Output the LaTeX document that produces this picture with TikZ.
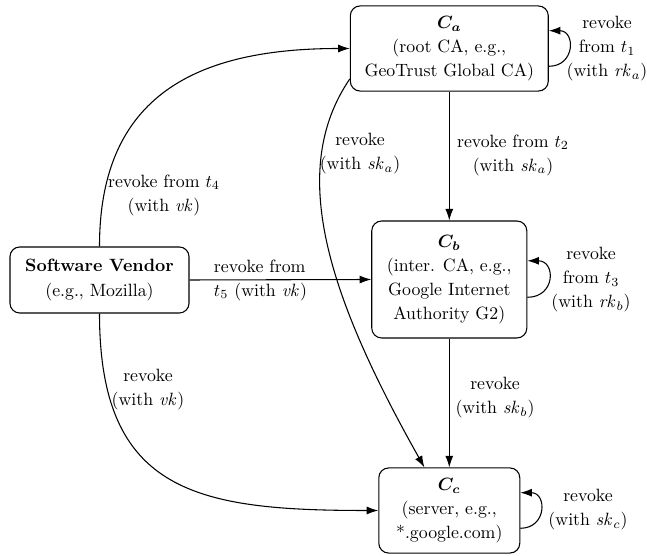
\documentclass[tikz,border=0pt]{standalone}
\usetikzlibrary{arrows.meta}
\begin{document}
\begin{tikzpicture}[x=0.5618pt,y=-0.5618pt,
  every node/.style={font=\fontsize{10}{13.5}\selectfont},
  box/.style={draw, semithick, rounded corners=5.5pt, align=center, inner sep=0pt},
  lbl/.style={align=center, inner sep=0pt},
  arr/.style={semithick, -{Latex[length=6.5pt,width=4.5pt]}}]
\useasboundingbox (0,0) rectangle (647,556);
\node[box, minimum width=111.2pt, minimum height=47.8pt] (Ca) at (449.3,48.5) {{\boldmath$C_a$}\\(root CA, e.g.,\\GeoTrust Global CA)};
\node[box, minimum width=87.1pt, minimum height=65.7pt] (Cb) at (449.3,279.5) {{\boldmath$C_b$}\\(inter. CA, e.g.,\\Google Internet\\Authority G2)};
\node[box, minimum width=79.2pt, minimum height=47.8pt] (Cc) at (449.3,510.5) {{\boldmath$C_c$}\\(server, e.g.,\\*.google.com)};
\node[box, minimum width=100.6pt, minimum height=37.1pt] (SV) at (99.5,280) {\textbf{Software Vendor}\\(e.g., Mozilla)};

\draw[arr] (SV.north) .. controls +(0,-152) and +(-152,0) .. (Ca.west);
\draw[arr] (SV.east) -- (Cb.west);
\draw[arr] (SV.south) .. controls +(0,180) and +(-180,0) .. (Cc.west);
\draw[arr] (Ca.south) -- (Cb.north);
\draw[arr] (Ca.197) .. controls +(-62,91) and +(-98,-174) .. (Cc.120);
\draw[arr] (Cb.south) -- (Cc.north);
\draw[arr] ([yshift=-10pt]Ca.east) .. controls +(15pt,0) and +(15pt,0) .. ([yshift=10pt]Ca.east);
\draw[arr] ([yshift=-10pt]Cb.east) .. controls +(16pt,0) and +(16pt,0) .. ([yshift=10.5pt]Cb.east);
\draw[arr] ([yshift=-10pt]Cc.east) .. controls +(15pt,0) and +(15pt,0) .. ([yshift=10pt]Cc.east);

\node[lbl] (l4) at (164,195) {revoke from $t_4$\\(with $\mathit{vk}$)};
\node[lbl, align=left] (l5) at (260.5,280) {revoke from\\$t_5$ (with $\mathit{vk}$)};
\node[lbl] (lv) at (148,390) {revoke\\(with $\mathit{vk}$)};
\node[lbl] (la) at (360,154) {revoke\\(with $\mathit{sk}_a$)};
\node[lbl] (l2) at (513,155) {revoke from $t_2$\\(with $\mathit{sk}_a$)};
\node[lbl] (lb) at (495,398) {revoke\\(with $\mathit{sk}_b$)};
\node[lbl] (l1) at (607,49) {revoke\\from $t_1$\\(with $\mathit{rk}_a$)};
\node[lbl] (l3) at (591,280) {revoke\\from $t_3$\\(with $\mathit{rk}_b$)};
\node[lbl] (lc) at (588,510) {revoke\\(with $\mathit{sk}_c$)};
\end{tikzpicture}
\end{document}
